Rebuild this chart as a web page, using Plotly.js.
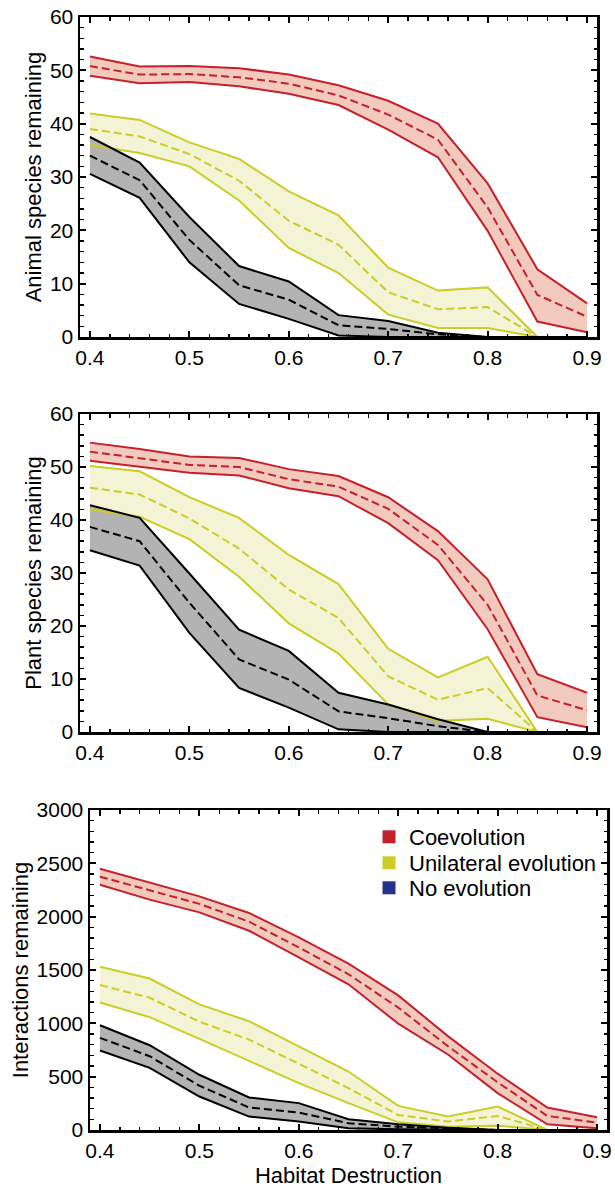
<!DOCTYPE html>
<html>
<head>
<meta charset="utf-8">
<script src="https://cdn.plot.ly/plotly-3.0.1.min.js"></script>
<style>html,body{margin:0;padding:0;background:#fff;}#chart{width:615px;height:1188px;}</style>
</head>
<body>
<div id="chart"></div>
<script>
// ---------------- data ----------------
const habitatDestruction = [0.4, 0.45, 0.5, 0.55, 0.6, 0.65, 0.7, 0.75, 0.8, 0.85, 0.9];

// Animal species remaining
const animalCoevoUpper = [52.6, 50.7, 50.8, 50.4, 49.2, 47.2, 44.3, 40.0, 28.8, 12.7, 6.3];
const animalCoevoMean  = [50.8, 49.2, 49.3, 48.7, 47.5, 45.3, 41.7, 37.0, 24.3, 7.9, 3.8];
const animalCoevoLower = [49.0, 47.6, 47.8, 47.0, 45.6, 43.5, 38.9, 33.7, 19.9, 2.9, 0.9];
const animalUniUpper   = [41.9, 40.7, 36.5, 33.4, 27.3, 22.8, 13.0, 8.7, 9.3, 0, 0];
const animalUniMean    = [39.0, 37.6, 34.3, 29.3, 21.8, 17.3, 8.4, 5.2, 5.6, 0, 0];
const animalUniLower   = [36.0, 34.5, 32.0, 25.6, 16.7, 12.0, 4.2, 1.7, 1.7, 0, 0];
const animalNoUpper    = [37.5, 32.7, 22.5, 13.3, 10.4, 4.1, 3.0, 0.8, 0, 0, 0];
const animalNoMean     = [34.0, 29.4, 18.2, 9.7, 7.0, 2.2, 1.5, 0.5, 0, 0, 0];
const animalNoLower    = [30.6, 26.1, 14.0, 6.2, 3.4, 0.3, 0, 0, 0, 0, 0];

// Plant species remaining
const plantCoevoUpper = [54.6, 53.4, 52.0, 51.7, 49.6, 48.3, 44.3, 37.9, 28.8, 10.9, 7.4];
const plantCoevoMean  = [52.9, 51.7, 50.4, 50.0, 47.7, 46.3, 42.1, 35.3, 24.0, 6.9, 4.1];
const plantCoevoLower = [51.2, 50.1, 48.9, 48.4, 46.0, 44.5, 39.4, 32.4, 19.4, 2.8, 0.9];
const plantUniUpper   = [50.2, 49.2, 44.3, 40.4, 33.4, 27.9, 15.7, 10.3, 14.2, 0, 0];
const plantUniMean    = [46.1, 44.8, 40.3, 34.6, 26.9, 21.5, 10.5, 6.1, 8.3, 0, 0];
const plantUniLower   = [42.0, 40.6, 36.4, 29.3, 20.5, 14.8, 5.2, 2.1, 2.5, 0, 0];
const plantNoUpper    = [42.8, 40.4, 29.9, 19.3, 15.3, 7.4, 5.2, 2.4, 0, 0, 0];
const plantNoMean     = [38.7, 36.0, 24.4, 13.7, 9.9, 3.9, 2.6, 1.1, 0, 0, 0];
const plantNoLower    = [34.3, 31.4, 18.7, 8.3, 4.6, 0.5, 0, 0, 0, 0, 0];

// Interactions remaining
const interCoevoUpper = [2450, 2320, 2190, 2035, 1805, 1560, 1262, 880, 528, 211, 120];
const interCoevoMean  = [2375, 2250, 2120, 1953, 1712, 1460, 1148, 786, 447, 132, 69];
const interCoevoLower = [2300, 2160, 2040, 1868, 1618, 1366, 997, 708, 346, 53, 16];
const interUniUpper   = [1530, 1420, 1178, 1020, 785, 548, 226, 126, 220, 0, 0];
const interUniMean    = [1360, 1240, 1015, 848, 622, 392, 141, 79, 132, 0, 0];
const interUniLower   = [1195, 1058, 855, 650, 440, 252, 72, 31, 41, 0, 0];
const interNoUpper    = [982, 795, 518, 305, 252, 101, 53, 22, 0, 0, 0];
const interNoMean     = [864, 692, 415, 211, 164, 63, 31, 13, 0, 0, 0];
const interNoLower    = [745, 582, 314, 126, 79, 16, 6, 0, 0, 0, 0];

const seriesNames = ['Coevolution', 'Unilateral evolution', 'No evolution'];
const yTitles = ['Animal species remaining', 'Plant species remaining', 'Interactions remaining'];
const xTitle = 'Habitat Destruction';

// ---------------- styles ----------------
const lineColors = ['#c4212a', '#cccc26', '#000000'];
const fillColors = ['#f1c9bd', '#f3f3d6', '#b3b3b3'];
const legendColors = ['#c4212a', '#cccc26', '#24338c'];
const FONT = 'Liberation Sans, Arial, Helvetica, sans-serif';

const panels = [
  {bands: [[animalCoevoLower, animalCoevoMean, animalCoevoUpper],
           [animalUniLower, animalUniMean, animalUniUpper],
           [animalNoLower, animalNoMean, animalNoUpper]]},
  {bands: [[plantCoevoLower, plantCoevoMean, plantCoevoUpper],
           [plantUniLower, plantUniMean, plantUniUpper],
           [plantNoLower, plantNoMean, plantNoUpper]]},
  {bands: [[interCoevoLower, interCoevoMean, interCoevoUpper],
           [interUniLower, interUniMean, interUniUpper],
           [interNoLower, interNoMean, interNoUpper]]}
];

const traces = [];
panels.forEach((p, pi) => {
  const xa = pi === 0 ? 'x' : 'x' + (pi + 1);
  const ya = pi === 0 ? 'y' : 'y' + (pi + 1);
  // fills first
  p.bands.forEach((b, si) => {
    traces.push({x: habitatDestruction, y: b[0], xaxis: xa, yaxis: ya, type: 'scatter', mode: 'lines',
      line: {width: 0, color: fillColors[si]}, showlegend: false, hoverinfo: 'skip'});
    traces.push({x: habitatDestruction, y: b[2], xaxis: xa, yaxis: ya, type: 'scatter', mode: 'lines',
      fill: 'tonexty', fillcolor: fillColors[si],
      line: {width: 0, color: fillColors[si]}, showlegend: false, hoverinfo: 'skip'});
  });
  // lines on top
  p.bands.forEach((b, si) => {
    [0, 2].forEach(k => traces.push({x: habitatDestruction, y: b[k], xaxis: xa, yaxis: ya, type: 'scatter',
      mode: 'lines', line: {width: 2, color: lineColors[si]}, showlegend: false}));
    traces.push({x: habitatDestruction, y: b[1], xaxis: xa, yaxis: ya, type: 'scatter', mode: 'lines',
      line: {width: 2, color: lineColors[si], dash: '8px,4px'}, showlegend: false});
  });
});

// legend entries (one legend per entry for exact placement)
const legendIds = ['legend', 'legend2', 'legend3'];
seriesNames.forEach((n, i) => {
  traces.push({x: [null], y: [null], xaxis: 'x3', yaxis: 'y3', type: 'scatter', mode: 'markers', name: n,
    marker: {symbol: 'square', size: 13, color: legendColors[i], line: {width: 0}},
    showlegend: true, legend: legendIds[i]});
});

const W = 615, H = 1188;
const frames = [
  {l: 80, r: 597, t: 17, b: 337},
  {l: 80, r: 597, t: 414, b: 732},
  {l: 90, r: 607, t: 810, b: 1130}
];

function xAxis(fr, withTitle) {
  const a = {
    domain: [fr.l / W, fr.r / W], range: [0.39, 0.91], tick0: 0.4, dtick: 0.1, tickformat: '.1f',
    ticks: 'inside', ticklen: 6, tickwidth: 2, tickcolor: '#000',
    minor: {dtick: 0.02, tick0: 0.4, ticks: 'inside', ticklen: 3.5, tickwidth: 1.5, tickcolor: '#000', showgrid: false},
    showline: true, linewidth: 2.5, linecolor: '#000', mirror: 'allticks',
    showgrid: false, zeroline: false, fixedrange: true,
    tickfont: {family: FONT, size: 21, color: '#000'}
  };
  if (withTitle) a.title = {text: xTitle, font: {family: FONT, size: 22, color: '#000'}, standoff: 8};
  return a;
}
function yAxis(fr, i, range, dtick, minor) {
  return {
    domain: [1 - fr.b / H, 1 - fr.t / H], range: range, dtick: dtick, tick0: 0,
    ticks: 'inside', ticklen: 6, tickwidth: 2, tickcolor: '#000',
    minor: {dtick: minor, ticks: 'inside', ticklen: 3.5, tickwidth: 1.5, tickcolor: '#000', showgrid: false},
    showline: true, linewidth: 2.5, linecolor: '#000', mirror: 'allticks',
    showgrid: false, zeroline: false, fixedrange: true,
    tickfont: {family: FONT, size: 21, color: '#000'},
    title: {text: yTitles[i], font: {family: FONT, size: 22, color: '#000'}, standoff: 2}
  };
}

const legendY = [837, 863, 888];
const layout = {
  width: W, height: H,
  margin: {l: 0, r: 0, t: 0, b: 0},
  paper_bgcolor: '#fff', plot_bgcolor: '#fff',
  font: {family: FONT, color: '#000'},
  xaxis: Object.assign(xAxis(frames[0], false), {anchor: 'y'}),
  yaxis: Object.assign(yAxis(frames[0], 0, [0, 60], 10, 2), {anchor: 'x'}),
  xaxis2: Object.assign(xAxis(frames[1], false), {anchor: 'y2'}),
  yaxis2: Object.assign(yAxis(frames[1], 1, [0, 60], 10, 2), {anchor: 'x2'}),
  xaxis3: Object.assign(xAxis(frames[2], true), {anchor: 'y3'}),
  yaxis3: Object.assign(yAxis(frames[2], 2, [0, 3000], 500, 100), {anchor: 'x3'}),
  showlegend: true
};
legendIds.forEach((id, i) => {
  layout[id] = {x: 369 / W, xanchor: 'left', y: 1 - legendY[i] / H, yanchor: 'middle',
    bgcolor: 'rgba(0,0,0,0)', borderwidth: 0, font: {family: FONT, size: 22, color: '#000'},
    itemwidth: 30, tracegroupgap: 0};
});

Plotly.newPlot('chart', traces, layout, {staticPlot: true, displayModeBar: false});
</script>
</body>
</html>
